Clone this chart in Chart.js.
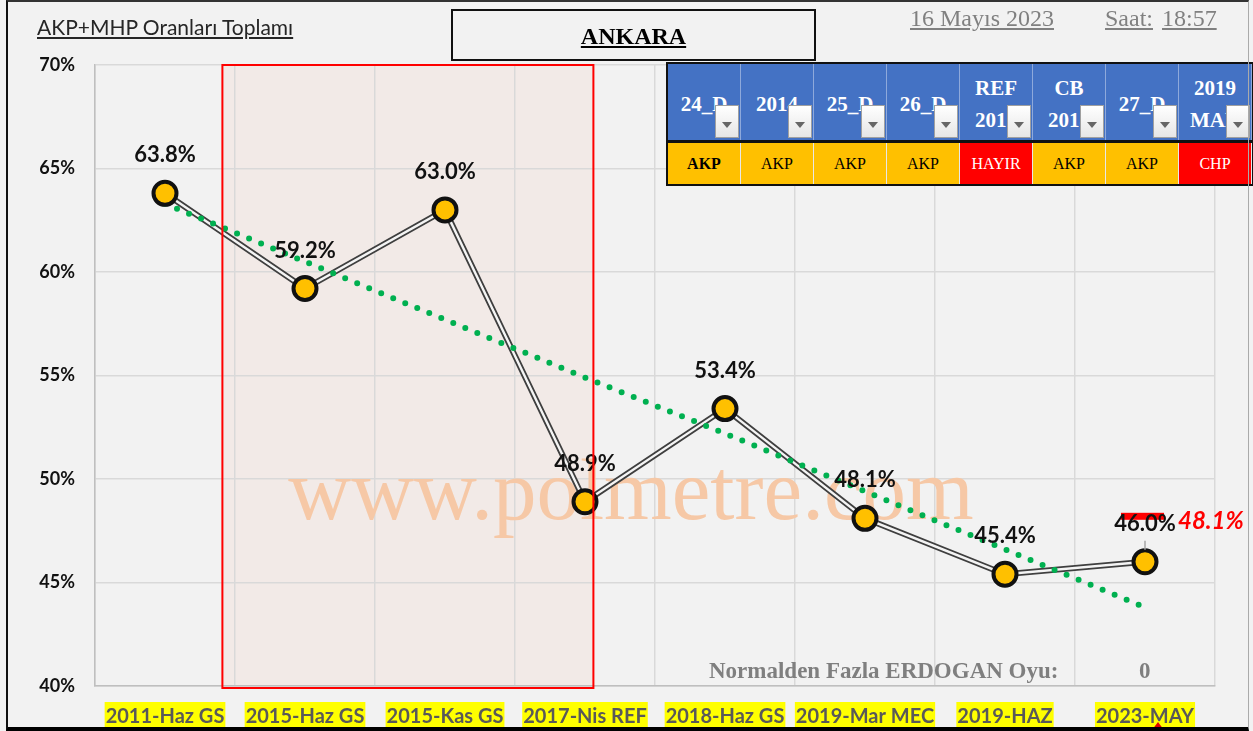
<!DOCTYPE html>
<html>
<head>
<meta charset="utf-8">
<script src="https://cdn.jsdelivr.net/npm/chart.js@4.4.0/dist/chart.umd.min.js"></script>
<style>
  body { margin: 0; background: #f2f2f2; }
  #wrap { position: relative; width: 1253px; height: 731px; background: #f2f2f2; overflow: hidden; }
  #chart { position: absolute; left: 0; top: 0; }
  #frame { position: absolute; left: 6px; top: 0; width: 1240px; height: 725px;
    border-left: 2px solid #111; border-top: 2px solid #333; border-bottom: 4px solid #000; border-right: 1px solid #aaa; pointer-events: none; }
  .txt { position: absolute; white-space: nowrap; }
  #title { left: 37px; top: 14px; font: 21px Lato, sans-serif; color: #262626; text-decoration: underline; }
  #city { left: 451px; top: 9px; width: 361px; height: 48px; border: 2px solid #111; text-align: center;
    font: bold 24px "Liberation Serif", serif; line-height: 50px; color: #000; }
  #city span { text-decoration: underline; }
  .date { top: 5px; font: 24px "Liberation Serif", serif; color: #808080; text-decoration: underline; }
  #tbl { position: absolute; left: 666px; top: 62px; width: 584px; height: 120px; border: 2px solid #111; background: #111; }
  .cell { position: absolute; overflow: hidden; box-sizing: border-box; text-align: center; }
  .head { top: 0; height: 76px; background: #4472c4; color: #fff; font: bold 21px "Liberation Serif", serif;
    border-right: 1px solid #8ea9db; display: flex; flex-direction: column; justify-content: center; line-height: 32px; padding-top: 3px; }
  .win { top: 79px; height: 41px; font: 16px "Liberation Serif", serif; line-height: 41px; border-right: 1px solid #e8e8e8; }
  .btn { position: absolute; right: 1px; bottom: 2px; width: 24px; height: 33px; box-sizing: border-box;
    background: linear-gradient(#ffffff, #e6e6e6); border: 1px solid #a0a0a0; }
  .btn::after { content: ""; position: absolute; left: 6px; top: 16px; border-left: 5px solid transparent;
    border-right: 5px solid transparent; border-top: 6px solid #666; }
  #extra { left: 709px; top: 658px; font: bold 23px "Liberation Serif", serif; color: #7f7f7f; }
  #extraVal { left: 1139px; top: 658px; font: bold 23px "Liberation Serif", serif; color: #7f7f7f; }
  #tri { position: absolute; left: 1152px; top: 722px; width: 0; height: 0; border-left: 6px solid transparent;
    border-right: 6px solid transparent; border-bottom: 8px solid #e00000; }
</style>
</head>
<body>
<div id="wrap">
  <canvas id="chart" width="1253" height="731"></canvas>
  <div id="title" class="txt">AKP+MHP Oranları Toplamı</div>
  <div id="city" class="txt"><span>ANKARA</span></div>
  <div class="txt date" style="left:910px">16 Mayıs 2023</div>
  <div class="txt date" style="left:1105px">Saat:</div>
  <div class="txt date" style="left:1162px">18:57</div>
  <div id="tbl"></div>
  <div id="extra" class="txt">Normalden Fazla ERDOGAN Oyu:</div>
  <div id="extraVal" class="txt">0</div>
  <div id="tri"></div>
  <div id="frame"></div>
</div>
<script>
// ---------- DATA ----------
const categories = ["2011-Haz GS", "2015-Haz GS", "2015-Kas GS", "2017-Nis REF", "2018-Haz GS", "2019-Mar MEC", "2019-HAZ", "2023-MAY"];
const akpMhp = [63.8, 59.2, 63.0, 48.9, 53.4, 48.1, 45.4, 46.0];
const trend = [63.3, 60.5, 57.7, 54.9, 52.2, 49.4, 46.6, 43.8];
const yMin = 40, yMax = 70, yStep = 5;
const compareLabel = "48.1%";

const tableHeads = [["24_D"], ["2014"], ["25_D"], ["26_D"], ["REF", "2017"], ["CB", "2018"], ["27_D"], ["2019", "MAR"]];
const tableWinners = ["AKP", "AKP", "AKP", "AKP", "HAYIR", "AKP", "AKP", "CHP"];

// shaded period (category index range)
const shadeFrom = 0.41, shadeTo = 3.06;

// ---------- TABLE ----------
const tbl = document.getElementById("tbl");
const colW = 73;
tableHeads.forEach((lines, i) => {
  const h = document.createElement("div");
  h.className = "cell head";
  h.style.left = (i * colW) + "px";
  h.style.width = colW + "px";
  h.innerHTML = lines.map(l => `<div>${l}</div>`).join("") + `<div class="btn"></div>`;
  tbl.appendChild(h);

  const w = document.createElement("div");
  const red = tableWinners[i] !== "AKP";
  w.className = "cell win";
  w.style.left = (i * colW) + "px";
  w.style.width = colW + "px";
  w.style.background = red ? "#ff0000" : "#ffc000";
  w.style.color = red ? "#fff" : "#000";
  if (i === 0) w.style.fontWeight = "bold";
  w.innerText = tableWinners[i];
  tbl.appendChild(w);
});

// ---------- PLUGINS ----------
const decor = {
  id: "decor",
  beforeDraw(chart) {
    const { ctx, chartArea, scales: { x } } = chart;
    ctx.save();
    ctx.fillStyle = "#f2eae7";
    const x0 = x.getPixelForValue(shadeFrom), x1 = x.getPixelForValue(shadeTo);
    ctx.fillRect(x0, chartArea.top, x1 - x0, chartArea.bottom - chartArea.top + 2);
    ctx.restore();
  },
  beforeDatasetsDraw(chart) {
    const { ctx } = chart;
    ctx.save();
    ctx.font = "87px 'Liberation Serif', serif";
    ctx.fillStyle = "#f6c8a6";
    ctx.textAlign = "center";
    ctx.textBaseline = "alphabetic";
    ctx.fillText("www.polmetre.com", 631, 519);
    ctx.restore();
  },
  afterDatasetsDraw(chart) {
    const { ctx } = chart;
    const meta = chart.getDatasetMeta(3);
    ctx.save();
    ctx.textAlign = "center";
    ctx.textBaseline = "middle";
    meta.data.forEach((pt, i) => {
      const tx = pt.x, ty = pt.y - 38;
      if (i === meta.data.length - 1) {
        ctx.fillStyle = "#ff0000";
        ctx.fillRect(tx - 24, ty - 11, 43, 7);
        ctx.strokeStyle = "#a6a6a6";
        ctx.lineWidth = 1.5;
        ctx.beginPath();
        ctx.moveTo(tx, ty + 17);
        ctx.lineTo(tx, pt.y - 12);
        ctx.stroke();
        ctx.font = "italic bold 24px Lato, sans-serif";
        ctx.fillStyle = "#ff0000";
        ctx.textAlign = "left";
        ctx.fillText(compareLabel, tx + 33, ty - 3);
        ctx.textAlign = "center";
      }
      ctx.font = "bold 22px Lato, sans-serif";
      ctx.fillStyle = "#111";
      ctx.fillText(akpMhp[i].toFixed(1) + "%", tx, ty);
    });
    ctx.restore();
  },
  afterDraw(chart) {
    const { ctx, chartArea, scales: { x } } = chart;
    const x0 = x.getPixelForValue(shadeFrom), x1 = x.getPixelForValue(shadeTo);
    ctx.save();
    ctx.strokeStyle = "#ff0000";
    ctx.lineWidth = 2;
    ctx.strokeRect(x0, chartArea.top, x1 - x0, chartArea.bottom - chartArea.top + 2);
    ctx.restore();
  }
};

// ---------- CHART ----------
new Chart(document.getElementById("chart"), {
  type: "line",
  data: {
    labels: categories,
    datasets: [
      { data: akpMhp, borderColor: "#3f3f3f", borderWidth: 6, pointRadius: 0, order: 4 },
      { data: akpMhp, borderColor: "#f4f4f4", borderWidth: 2.4, pointRadius: 0, order: 3 },
      { data: trend, borderColor: "#00b050", borderWidth: 6, borderDash: [0, 13], borderCapStyle: "round", pointRadius: 0, order: 2 },
      { data: akpMhp, showLine: false, pointRadius: 11.5, pointBackgroundColor: "#ffc000", pointBorderColor: "#111", pointBorderWidth: 4, order: 1 }
    ]
  },
  options: {
    responsive: false,
    animation: false,
    layout: { padding: { top: 65, right: 38, left: 0, bottom: 0 } },
    plugins: { legend: { display: false }, tooltip: { enabled: false } },
    scales: {
      x: {
        offset: true,
        grid: { offset: true, color: "#d9d9d9", lineWidth: 1.5, drawTicks: false },
        border: { color: "#bfbfbf", width: 1.5 },
        ticks: {
          padding: 19,
          color: "#595959",
          font: { family: "Lato", size: 20, weight: "bold" },
          showLabelBackdrop: true,
          backdropColor: "#ffff00",
          backdropPadding: { top: 3, bottom: 3, left: 1, right: 1 },
          maxRotation: 0,
          autoSkip: false
        },
        afterFit: s => { s.height = 45; }
      },
      y: {
        min: yMin,
        max: yMax,
        grid: { color: "#d9d9d9", lineWidth: 1.5, drawTicks: false },
        border: { color: "#bfbfbf", width: 1.5 },
        ticks: {
          stepSize: yStep,
          padding: 20,
          color: "#111",
          font: { family: "Lato", size: 18, weight: "bold" },
          callback: v => v + "%"
        },
        afterFit: s => { s.width = 95; }
      }
    }
  },
  plugins: [decor]
});
</script>
</body>
</html>
